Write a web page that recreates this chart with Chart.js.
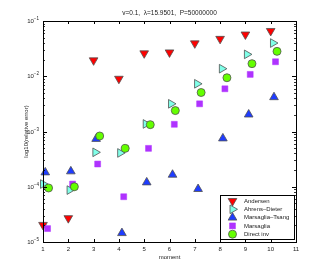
<!DOCTYPE html>
<html>
<head>
<meta charset="utf-8">
<script src="https://cdn.jsdelivr.net/npm/chart.js@4/dist/chart.umd.min.js"></script>
<style>
  html, body { margin: 0; padding: 0; background: #fff; }
  #c { display: block; }
</style>
</head>
<body>
<canvas id="c" width="327" height="273"></canvas>
<script>
// data (relative error per moment, each method slightly shifted on x)
const andersenX = [1, 2, 3, 4, 5, 6, 7, 8, 9, 10];
const andersenY = [2.04e-5, 2.7e-5, 0.0194, 0.0090, 0.026, 0.027, 0.0394, 0.0475, 0.057, 0.066];

const ahrensX = [1.0, 2.05, 3.07, 4.05, 5.06, 6.06, 7.09, 8.07, 9.06, 10.09];
const ahrensY = [1.12e-4, 8.7e-5, 4.2e-4, 4.09e-4, 1.37e-3, 3.17e-3, 7.3e-3, 0.0137, 0.0249, 0.0399];

const mtX = [1.09, 2.1, 3.1, 4.12, 5.1, 6.12, 7.13, 8.11, 9.13, 10.13];
const mtY = [1.82e-4, 1.90e-4, 7.35e-4, 1.45e-5, 1.20e-4, 1.65e-4, 9.1e-5, 7.5e-4, 2.03e-3, 4.18e-3];

const marsX = [1.18, 2.17, 3.16, 4.19, 5.17, 6.19, 7.19, 8.19, 9.19, 10.19];
const marsY = [1.75e-5, 1.12e-4, 2.58e-4, 6.6e-5, 4.95e-4, 1.35e-3, 3.17e-3, 5.93e-3, 0.0108, 0.0183];

const directX = [1.22, 2.24, 3.24, 4.25, 5.24, 6.23, 7.25, 8.27, 9.26, 10.25];
const directY = [9.5e-5, 1.0e-4, 8.3e-4, 4.95e-4, 1.33e-3, 2.39e-3, 5.08e-3, 9.4e-3, 0.0169, 0.0282];

const xTicks = [1, 2, 3, 4, 5, 6, 7, 8, 9, 10, 11];
const yExps  = [-1, -2, -3, -4, -5];

const titleText = 'v=0.1,  \u03bb=15.9501,  P=50000000';
const xTitle = 'moment';
const yTitle = 'log10(relative error)';

const FONT = '"Liberation Sans", Arial, sans-serif';
const EDGE = 'rgb(80,80,80)';

const pts = (xs, ys) => xs.map((x, i) => ({ x, y: ys[i] }));

const datasets = [
  { label: 'Andersen', data: pts(andersenX, andersenY), pointStyle: 'triangle', rotation: 180,
    pointRadius: 5, backgroundColor: 'rgb(255,0,0)', borderColor: EDGE, borderWidth: 0.8, order: 5 },
  { label: 'Ahrens\u2013Dieter', data: pts(ahrensX, ahrensY), pointStyle: 'triangle', rotation: 90,
    pointRadius: 5, backgroundColor: 'rgb(128,255,232)', borderColor: EDGE, borderWidth: 0.8, order: 4 },
  { label: 'Marsaglia\u2013Tsang', data: pts(mtX, mtY), pointStyle: 'triangle', rotation: 0,
    pointRadius: 5, backgroundColor: 'rgb(30,60,255)', borderColor: EDGE, borderWidth: 0.8, order: 3 },
  { label: 'Marsaglia', data: pts(marsX, marsY), pointStyle: 'rect', rotation: 0,
    pointRadius: 4.2, backgroundColor: 'rgb(175,50,255)', borderColor: 'rgb(175,50,255)', borderWidth: 0.5, order: 2 },
  { label: 'Direct inv', data: pts(directX, directY), pointStyle: 'circle', rotation: 0,
    pointRadius: 4, backgroundColor: 'rgb(100,255,0)', borderColor: EDGE, borderWidth: 0.8, order: 1 }
];
datasets.forEach(d => { d.clip = false; d.pointHoverRadius = d.pointRadius; });

function drawMarker(ctx, d, x, y){
  if (window.Chart && Chart.helpers && Chart.helpers.drawPoint) {
    ctx.save();
    ctx.fillStyle = d.backgroundColor;
    ctx.strokeStyle = d.borderColor;
    ctx.lineWidth = d.borderWidth;
    Chart.helpers.drawPoint(ctx, { pointStyle: d.pointStyle, rotation: d.rotation, radius: d.pointRadius, borderWidth: d.borderWidth }, x, y);
    ctx.restore();
  }
}

// MATLAB-ish axes: box, inward ticks, tick labels, titles, legend inside plot
const axesPlugin = {
  id: 'matlabAxes',
  afterDraw(chart){
    const ctx = chart.ctx, a = chart.chartArea;
    const xs = chart.scales.x, ys = chart.scales.y;
    ctx.save();
    ctx.strokeStyle = '#000';
    ctx.lineWidth = 1;
    ctx.fillStyle = '#222';

    // x ticks
    ctx.font = '6px ' + FONT;
    ctx.textAlign = 'center';
    ctx.textBaseline = 'middle';
    xTicks.forEach(v => {
      const px = Math.round(xs.getPixelForValue(v)) + 0.5;
      ctx.beginPath();
      ctx.moveTo(px, a.bottom); ctx.lineTo(px, a.bottom - 3);
      ctx.moveTo(px, a.top); ctx.lineTo(px, a.top + 3);
      ctx.stroke();
      ctx.fillText(String(v), xs.getPixelForValue(v), a.bottom + 7);
    });

    // y minor ticks
    ctx.lineWidth = 0.8;
    for (let e = -5; e < -1 + 0; e++) {
      for (let m = 2; m <= 9; m++) {
        const py = Math.round(ys.getPixelForValue(m * Math.pow(10, e))) + 0.5;
        ctx.beginPath();
        ctx.moveTo(a.left, py); ctx.lineTo(a.left + 2, py);
        ctx.moveTo(a.right, py); ctx.lineTo(a.right - 2, py);
        ctx.stroke();
      }
    }
    // y major ticks + labels
    ctx.lineWidth = 1;
    yExps.forEach(e => {
      const py = Math.round(ys.getPixelForValue(Math.pow(10, e))) + 0.5;
      ctx.beginPath();
      ctx.moveTo(a.left, py); ctx.lineTo(a.left + 4, py);
      ctx.moveTo(a.right, py); ctx.lineTo(a.right - 4, py);
      ctx.stroke();
      const sup = '\u2212' + String(-e);
      ctx.font = '4.5px ' + FONT;
      ctx.textAlign = 'right';
      ctx.textBaseline = 'middle';
      const supW = ctx.measureText(sup).width;
      ctx.fillText(sup, a.left - 4, py - 3);
      ctx.font = '6px ' + FONT;
      ctx.fillText('10', a.left - 4 - supW, py);
    });

    // box
    ctx.strokeRect(Math.round(a.left) + 0.5, Math.round(a.top) + 0.5,
                   Math.round(a.right - a.left), Math.round(a.bottom - a.top));

    // titles
    ctx.fillStyle = '#222';
    ctx.textAlign = 'center';
    ctx.textBaseline = 'middle';
    ctx.font = '6.5px ' + FONT;
    ctx.fillText(titleText, (a.left + a.right) / 2, a.top - 8);
    ctx.font = '6px ' + FONT;
    ctx.fillText(xTitle, (a.left + a.right) / 2, a.bottom + 15);
    ctx.save();
    ctx.translate(a.left - 17, (a.top + a.bottom) / 2);
    ctx.rotate(-Math.PI / 2);
    ctx.fillText(yTitle, 0, 0);
    ctx.restore();

    // legend
    const lx = a.right - 76, ly = a.bottom - 47, lw = 74, lh = 44;
    ctx.fillStyle = '#fff';
    ctx.fillRect(lx, ly, lw, lh);
    ctx.lineWidth = 1;
    ctx.strokeStyle = '#000';
    ctx.strokeRect(Math.round(lx) + 0.5, Math.round(ly) + 0.5, lw, lh);
    ctx.font = '6px ' + FONT;
    ctx.textAlign = 'left';
    ctx.textBaseline = 'middle';
    chart.data.datasets.forEach((d, i) => {
      const ry = ly + 6 + i * 8.3;
      drawMarker(ctx, d, lx + 12.5, ry);
      ctx.fillStyle = '#222';
      ctx.fillText(d.label, lx + 24, ry);
    });
    ctx.restore();
  }
};

new Chart(document.getElementById('c'), {
  type: 'scatter',
  data: { datasets },
  options: {
    responsive: false,
    animation: false,
    devicePixelRatio: 1,
    layout: { padding: { left: 43, top: 21, right: 31, bottom: 31 } },
    plugins: { legend: { display: false }, tooltip: { enabled: false } },
    scales: {
      x: { type: 'linear', min: 1, max: 11, display: false },
      y: { type: 'logarithmic', min: 1e-5, max: 1e-1, display: false }
    }
  },
  plugins: [axesPlugin]
});
</script>
</body>
</html>
